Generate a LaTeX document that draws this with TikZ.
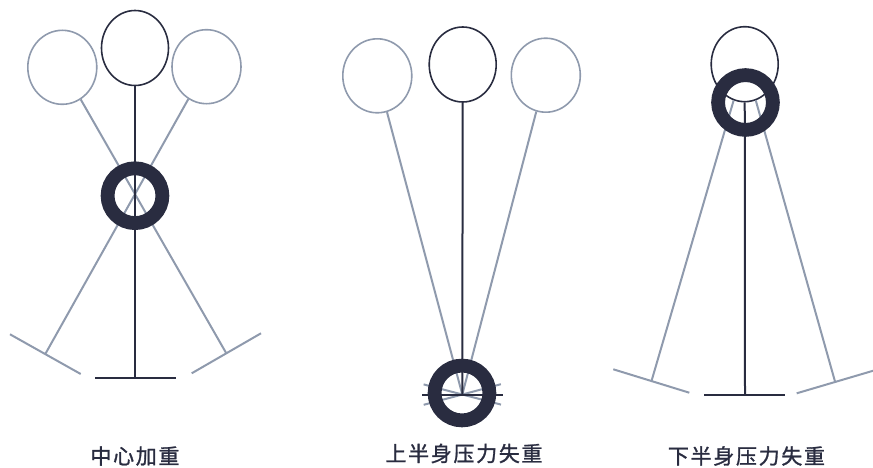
\documentclass[tikz,border=0pt]{standalone}
\usepackage{fontspec}
\newfontfamily\cjk{Noto Sans CJK SC}[LetterSpace=8,FakeBold=1.3]
\usetikzlibrary{shapes.geometric}
\definecolor{dk}{RGB}{41,44,64}
\definecolor{gy}{RGB}{143,154,173}
\tikzset{
  headd/.style={ellipse,draw=dk,line width=1.6pt,minimum width=67pt,minimum height=75pt,inner sep=0pt},
  headg/.style={ellipse,draw=gy,line width=1.6pt,minimum width=69pt,minimum height=74pt,inner sep=0pt},
  dline/.style={draw=dk,line width=2pt},
  gline/.style={draw=gy,line width=2pt},
  ring/.style={circle,draw=dk,line width=13.8pt,minimum size=54.8pt,inner sep=0pt},
  lbl/.style={text=dk,font=\cjk\fontsize{21}{24}\selectfont,inner sep=0pt}
}
\begin{document}
\begin{tikzpicture}[x=1pt,y=-1pt]
\useasboundingbox (0,0) rectangle (873,468);
% ---------- panel 1 ----------
\node[headd] (c1) at (135,48) {};
\node[headg] (l1) at (62.3,67.3) {};
\node[headg] (r1) at (206.5,66.7) {};
\coordinate (b1) at (135,377.7);
\coordinate (b1a) at (95,377.7);
\coordinate (b1b) at (175.7,377.7);
\coordinate (rf1) at (226.3,353.3);
\coordinate (rf1a) at (191.7,373.3);
\coordinate (rf1b) at (261,333.3);
\coordinate (lf1) at (45.3,354);
\coordinate (lf1a) at (10,334.3);
\coordinate (lf1b) at (80.7,374);
\draw[gline] (l1) -- (rf1);
\draw[gline] (r1) -- (lf1);
\draw[gline] (rf1a) -- (rf1b);
\draw[gline] (lf1a) -- (lf1b);
\draw[dline] (c1) -- (b1);
\draw[dline] (b1a) -- (b1b);
\node[ring] (k1) at (135,195.7) {};
\node[lbl] (t1) at (135,456) {中心加重};
% ---------- panel 2 ----------
\node[headd] (c2) at (462.7,64.5) {};
\node[headg] (l2) at (377.3,75.8) {};
\node[headg] (r2) at (545.8,75.2) {};
\coordinate (p2) at (462.3,394.5);
\coordinate (lf2a) at (423.7,404.8);
\coordinate (lf2b) at (500.9,384.2);
\coordinate (rf2a) at (423.6,384.4);
\coordinate (rf2b) at (501,404.6);
\coordinate (b2a) at (422.3,395);
\coordinate (b2b) at (502.7,395);
\draw[gline] (l2) -- (p2);
\draw[gline] (r2) -- (p2);
\draw[gline] (lf2a) -- (lf2b);
\draw[gline] (rf2a) -- (rf2b);
\draw[dline] (c2) -- (p2);
\draw[dline] (b2a) -- (b2b);
\node[ring] (k2) at (462,393) {};
\node[lbl] (t2) at (464,453.5) {上半身压力失重};
% ---------- panel 3 ----------
\node[headd] (c3) at (744.7,64.2) {};
\coordinate (b3) at (745,395);
\coordinate (b3a) at (704,395);
\coordinate (b3b) at (785,395);
\coordinate (lf3) at (651.5,381);
\coordinate (rf3) at (835,381.5);
\coordinate (lf3a) at (613.3,369.3);
\coordinate (lf3b) at (689.3,392.7);
\coordinate (rf3a) at (796.7,393.3);
\coordinate (rf3b) at (873.3,370.7);
\draw[gline] (c3.253) -- (lf3);
\draw[gline] (c3.287) -- (rf3);
\draw[gline] (lf3a) -- (lf3b);
\draw[gline] (rf3a) -- (rf3b);
\draw[dline] (c3) -- (b3);
\draw[dline] (b3a) -- (b3b);
\node[ring] (k3) at (745.5,102.5) {};
\node[lbl] (t3) at (746.5,456) {下半身压力失重};
\end{tikzpicture}
\end{document}
